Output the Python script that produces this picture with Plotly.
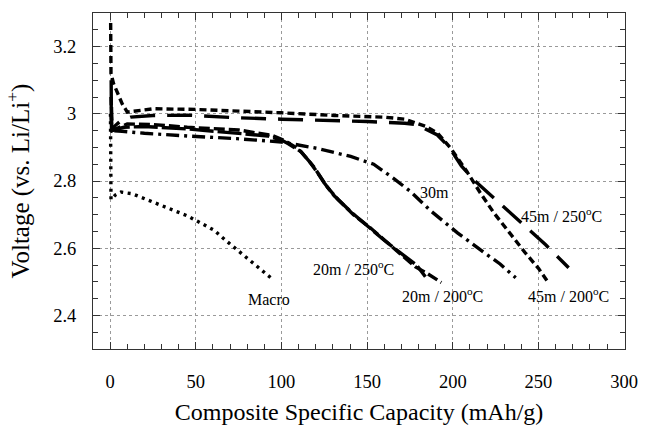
import plotly.graph_objects as go

# ---- data ----
macro_x = [0.2, 0.5, 3, 6.3, 12.9, 22.4, 33.8, 45.2, 51, 60.5, 68, 75.7, 83.3, 89, 94.7]
macro_v = [3.00, 2.745, 2.758, 2.767, 2.762, 2.743, 2.72, 2.696, 2.68, 2.654, 2.621, 2.588, 2.555, 2.53, 2.508]

m45_200_x = [0.3, 0.5, 2, 7, 10, 15, 25, 50, 75, 100, 131, 160, 172, 178, 184, 191, 199, 208, 216, 224, 233, 242, 250, 255.2]
m45_200_v = [3.27, 3.12, 3.09, 3.03, 3.005, 3.008, 3.015, 3.013, 3.009, 3.003, 2.995, 2.99, 2.984, 2.974, 2.963, 2.943, 2.896, 2.83, 2.765, 2.705, 2.645, 2.588, 2.54, 2.502]

m45_250_x = [0.6, 0.8, 3, 6, 12, 25, 45, 75, 100, 124, 150, 172, 179, 184, 191, 198, 205, 213, 221, 230.4, 244.7, 254.2, 267.6]
m45_250_v = [3.10, 2.95, 2.965, 2.978, 2.99, 2.995, 2.996, 2.988, 2.984, 2.981, 2.977, 2.972, 2.968, 2.955, 2.937, 2.9, 2.845, 2.8, 2.763, 2.72, 2.654, 2.61, 2.542]

m30_x = [0.8, 1, 7, 20, 45, 74, 100, 121, 140.4, 153.8, 165.4, 175, 187.6, 202.9, 218, 227.6, 236.7]
m30_v = [3.02, 2.95, 2.948, 2.942, 2.934, 2.926, 2.916, 2.897, 2.873, 2.85, 2.808, 2.77, 2.709, 2.645, 2.588, 2.553, 2.512]

m20_250_x = [0.5, 1, 8, 20, 45, 73, 92, 100, 104, 111.5, 119.2, 125, 130.8, 140.4, 150, 159.6, 169.2, 178.8, 184]
m20_250_v = [3.05, 2.95, 2.96, 2.962, 2.955, 2.944, 2.934, 2.922, 2.911, 2.887, 2.84, 2.794, 2.756, 2.709, 2.667, 2.625, 2.587, 2.55, 2.515]

m20_200_x = [0.5, 1.2, 10, 25, 45, 75, 95, 102, 110, 116, 121, 127, 133, 142, 152, 161, 170, 178, 185, 193.3]
m20_200_v = [3.0, 2.95, 2.97, 2.968, 2.96, 2.952, 2.935, 2.92, 2.895, 2.86, 2.825, 2.78, 2.745, 2.7, 2.66, 2.62, 2.582, 2.545, 2.525, 2.498]

label_text = ["Macro", "30m", "20m / 250<sup>o</sup>C", "20m / 200<sup>o</sup>C", "45m / 250<sup>o</sup>C", "45m / 200<sup>o</sup>C"]
label_x = [92.8, 189.2, 142.3, 194.0, 263.4, 267.6]
label_y = [2.446, 2.765, 2.54, 2.46, 2.70, 2.46]

x_ticks = [0, 50, 100, 150, 200, 250, 300]
y_ticks = [2.4, 2.6, 2.8, 3.0, 3.2]

FONT = "Liberation Serif"

fig = go.Figure()

series = [
    (macro_x, macro_v, "3px,4.5px"),
    (m20_250_x, m20_250_v, "24px,4px"),
    (m20_200_x, m20_200_v, "11px,4px"),
    (m30_x, m30_v, "13px,5px,3px,5px"),
    (m45_250_x, m45_250_v, "25px,12px"),
    (m45_200_x, m45_200_v, "7px,4px"),
]
for xs, vs, dash in series:
    fig.add_trace(go.Scatter(x=xs, y=vs, mode="lines",
                             line=dict(color="black", width=3.4, dash=dash),
                             showlegend=False, hoverinfo="skip"))

for t, xx, yy in zip(label_text, label_x, label_y):
    fig.add_annotation(x=xx, y=yy, text=t, showarrow=False,
                       font=dict(family=FONT, size=16, color="black"))

axis_common = dict(
    showline=True, linecolor="#333333", linewidth=1, mirror="allticks",
    ticks="inside", ticklen=7, tickcolor="#333333", tickwidth=1,
    showgrid=True, gridcolor="#9a9a9a", griddash="dot", gridwidth=1,
    zeroline=False,
    tickfont=dict(family=FONT, size=18.5, color="black"),
)

fig.update_xaxes(
    range=[-10, 300.5], tickvals=x_ticks, ticktext=[str(v) for v in x_ticks],
    minor=dict(dtick=10, tick0=0, ticks="inside", ticklen=5, tickcolor="#333333", showgrid=False),
    title=dict(text="Composite Specific Capacity (mAh/g)", font=dict(family=FONT, size=24, color="black"), standoff=11),
    ticklabelstandoff=16,
    ticklabeloverflow="allow",
    **axis_common,
)
fig.update_yaxes(
    range=[2.3, 3.3], tickvals=y_ticks, ticktext=["2.4", "2.6", "2.8", "3", "3.2"],
    minor=dict(dtick=0.05, tick0=2.3, ticks="inside", ticklen=5, tickcolor="#333333", showgrid=False),
    title=dict(text="Voltage (vs. Li/Li<sup>+</sup>)", font=dict(family=FONT, size=25, color="black"), standoff=16),
    ticklabelstandoff=12,
    **axis_common,
)

fig.update_layout(
    width=650, height=432,
    margin=dict(l=93, r=14, t=13, b=63),
    paper_bgcolor="white", plot_bgcolor="white",
)

fig.write_html("out.html")
